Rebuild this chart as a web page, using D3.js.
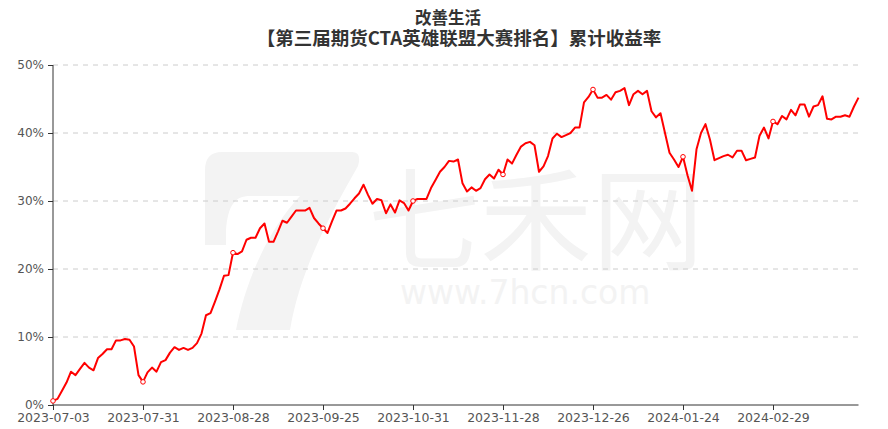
<!DOCTYPE html>
<html><head><meta charset="utf-8">
<script src="https://cdn.jsdelivr.net/npm/d3@7/dist/d3.min.js"></script>
<style>html,body{margin:0;padding:0;background:#fff;}svg{display:block;}</style>
</head><body>
<svg id="c" width="888" height="429"></svg>
<script>
const titleLines = ["改善生活", "【第三届期货CTA英雄联盟大赛排名】累计收益率"];
const dates = [
"2023-07-03","2023-07-04","2023-07-05","2023-07-06","2023-07-07","2023-07-10","2023-07-11","2023-07-12","2023-07-13","2023-07-14",
"2023-07-17","2023-07-18","2023-07-19","2023-07-20","2023-07-21","2023-07-24","2023-07-25","2023-07-26","2023-07-27","2023-07-28","2023-07-31",
"2023-08-01","2023-08-02","2023-08-03","2023-08-04","2023-08-07","2023-08-08","2023-08-09","2023-08-10","2023-08-11","2023-08-14",
"2023-08-15","2023-08-16","2023-08-17","2023-08-18","2023-08-21","2023-08-22","2023-08-23","2023-08-24","2023-08-25","2023-08-28",
"2023-08-29","2023-08-30","2023-08-31","2023-09-01","2023-09-04","2023-09-05","2023-09-06","2023-09-07","2023-09-08","2023-09-11",
"2023-09-12","2023-09-13","2023-09-14","2023-09-15","2023-09-18","2023-09-19","2023-09-20","2023-09-21","2023-09-22","2023-09-25",
"2023-09-26","2023-09-27","2023-09-28","2023-10-09","2023-10-10","2023-10-11","2023-10-12","2023-10-13","2023-10-16","2023-10-17",
"2023-10-18","2023-10-19","2023-10-20","2023-10-23","2023-10-24","2023-10-25","2023-10-26","2023-10-27","2023-10-30","2023-10-31",
"2023-11-01","2023-11-02","2023-11-03","2023-11-06","2023-11-07","2023-11-08","2023-11-09","2023-11-10","2023-11-13","2023-11-14",
"2023-11-15","2023-11-16","2023-11-17","2023-11-20","2023-11-21","2023-11-22","2023-11-23","2023-11-24","2023-11-27","2023-11-28",
"2023-11-29","2023-11-30","2023-12-01","2023-12-04","2023-12-05","2023-12-06","2023-12-07","2023-12-08","2023-12-11","2023-12-12",
"2023-12-13","2023-12-14","2023-12-15","2023-12-18","2023-12-19","2023-12-20","2023-12-21","2023-12-22","2023-12-25","2023-12-26",
"2023-12-27","2023-12-28","2023-12-29","2024-01-02","2024-01-03","2024-01-04","2024-01-05","2024-01-08","2024-01-09","2024-01-10",
"2024-01-11","2024-01-12","2024-01-15","2024-01-16","2024-01-17","2024-01-18","2024-01-19","2024-01-22","2024-01-23","2024-01-24",
"2024-01-25","2024-01-26","2024-01-29","2024-01-30","2024-01-31","2024-02-01","2024-02-02","2024-02-05","2024-02-06","2024-02-07",
"2024-02-08","2024-02-19","2024-02-20","2024-02-21","2024-02-22","2024-02-23","2024-02-26","2024-02-27","2024-02-28","2024-02-29",
"2024-03-01","2024-03-04","2024-03-05","2024-03-06","2024-03-07","2024-03-08","2024-03-11","2024-03-12","2024-03-13","2024-03-14",
"2024-03-15","2024-03-18","2024-03-19","2024-03-20","2024-03-21","2024-03-22","2024-03-25","2024-03-26","2024-03-27"
];
const values = [
0.6,0.9,2.1,3.3,4.9,4.4,5.3,6.2,5.5,5.1,
6.9,7.5,8.2,8.2,9.5,9.5,9.7,9.6,8.6,4.4,3.4,
4.8,5.5,4.9,6.3,6.6,7.7,8.5,8.1,8.4,8.1,
8.4,9.1,10.5,13.2,13.5,15.2,17.0,19.0,19.1,22.4,
22.2,22.6,24.3,24.6,24.6,26.0,26.7,24.0,24.0,25.5,
27.1,26.8,27.7,28.6,28.6,28.6,29.0,27.5,26.7,26.0,
25.3,27.0,28.6,28.6,28.9,29.6,30.4,31.1,32.4,30.9,
29.6,30.3,30.1,28.2,29.5,28.3,30.1,29.7,28.6,30.0,
30.3,30.3,30.3,31.9,33.1,34.3,35.0,35.9,35.8,36.1,
32.6,31.4,32.0,31.5,31.9,33.2,33.9,33.3,34.6,33.9,
36.1,35.5,36.8,38.0,38.5,38.7,38.2,34.3,35.1,36.6,
39.2,39.9,39.4,39.7,40.0,40.8,40.8,44.5,45.3,46.4,
45.2,45.2,45.6,44.9,46.0,46.2,46.6,44.1,45.7,46.2,
45.7,46.2,43.2,42.3,42.9,40.0,37.1,36.1,35.0,36.5,
33.8,31.5,37.6,40.0,41.3,39.0,36.0,36.3,36.6,36.8,
36.4,37.4,37.4,36.0,36.2,36.4,39.6,40.8,39.2,41.7,
41.3,42.5,42.0,43.4,42.6,44.2,44.2,42.4,43.9,44.1,
45.4,42.1,42.0,42.4,42.4,42.6,42.4,43.9,45.2
];
const xTickLabels = ["2023-07-03","2023-07-31","2023-08-28","2023-09-25","2023-10-31","2023-11-28","2023-12-26","2024-01-24","2024-02-29"];
const yTicks = [0,10,20,30,40,50];

const svg = d3.select("#c");
const L = 53, R = 858.5, T = 65, B = 405;
const x = d3.scalePoint().domain(dates).range([L, R]);
const y = d3.scaleLinear().domain([0, 50]).range([B, T]);

// watermark
const wm = svg.append("g").attr("fill", "#f3f3f3");
wm.append("path").attr("d",
  "M222,152 L352,152 Q362,152 358,166 C330,215 300,270 290,330 L236,330 C246,280 268,230 300,196 L250,196 C235,196 228,205 226,230 L226,245 L205,245 L205,170 Q205,152 222,152 Z");
wm.append("text").attr("x", 368).attr("y", 262).attr("font-family", "Noto Sans CJK SC")
  .attr("font-size", 112).text("七禾网");
wm.append("text").attr("x", 400).attr("y", 304).attr("font-family", "DejaVu Sans")
  .attr("font-size", 33).text("www.7hcn.com");

// grid
svg.append("g").selectAll("line").data(yTicks.filter(d => d > 0)).join("line")
  .attr("x1", L).attr("x2", R).attr("y1", d => y(d)).attr("y2", d => y(d))
  .attr("stroke", "#ccc").attr("stroke-dasharray", "5,5").attr("stroke-width", 1);

// y axis
const ya = svg.append("g").attr("transform", `translate(${L},0)`)
  .call(d3.axisLeft(y).tickValues(yTicks).tickFormat(d => d + "%").tickSize(5).tickPadding(4));
ya.select(".domain").attr("stroke", "#333").attr("d", `M0,${T}V${B}`);
ya.selectAll(".tick line").attr("stroke", "#333");
ya.selectAll("text").attr("fill", "#555").attr("font-family", "DejaVu Sans").attr("font-size", 12);

// x axis
const xa = svg.append("g").attr("transform", `translate(0,${B})`)
  .call(d3.axisBottom(x).tickValues(xTickLabels).tickSize(5).tickPadding(3));
xa.select(".domain").attr("stroke", "#333").attr("d", `M${L},0H${R}`);
xa.selectAll(".tick line").attr("stroke", "#333");
xa.selectAll("text").attr("fill", "#555").attr("font-family", "DejaVu Sans").attr("font-size", 12.5);

// line
const pts = dates.map((d, i) => ({d, v: values[i]}));
svg.append("path").datum(pts)
  .attr("fill", "none").attr("stroke", "#ff0000").attr("stroke-width", 2).attr("stroke-linejoin", "round")
  .attr("d", d3.line().x(p => x(p.d)).y(p => y(p.v)));
svg.append("g").selectAll("circle").data(pts.filter(p => xTickLabels.includes(p.d))).join("circle")
  .attr("cx", p => x(p.d)).attr("cy", p => y(p.v)).attr("r", 2.3)
  .attr("fill", "#fff").attr("stroke", "#ff0000").attr("stroke-width", 1);

// title
const tt = svg.append("g").attr("font-family", "Noto Sans CJK SC").attr("font-weight", "bold")
  .attr("fill", "#333").attr("text-anchor", "middle");
tt.append("text").attr("x", 448).attr("y", 24).attr("font-size", 16.5).text(titleLines[0]);
tt.append("text").attr("x", 459).attr("y", 44.5).attr("font-size", 18.5).text(titleLines[1]);
</script>
</body></html>
